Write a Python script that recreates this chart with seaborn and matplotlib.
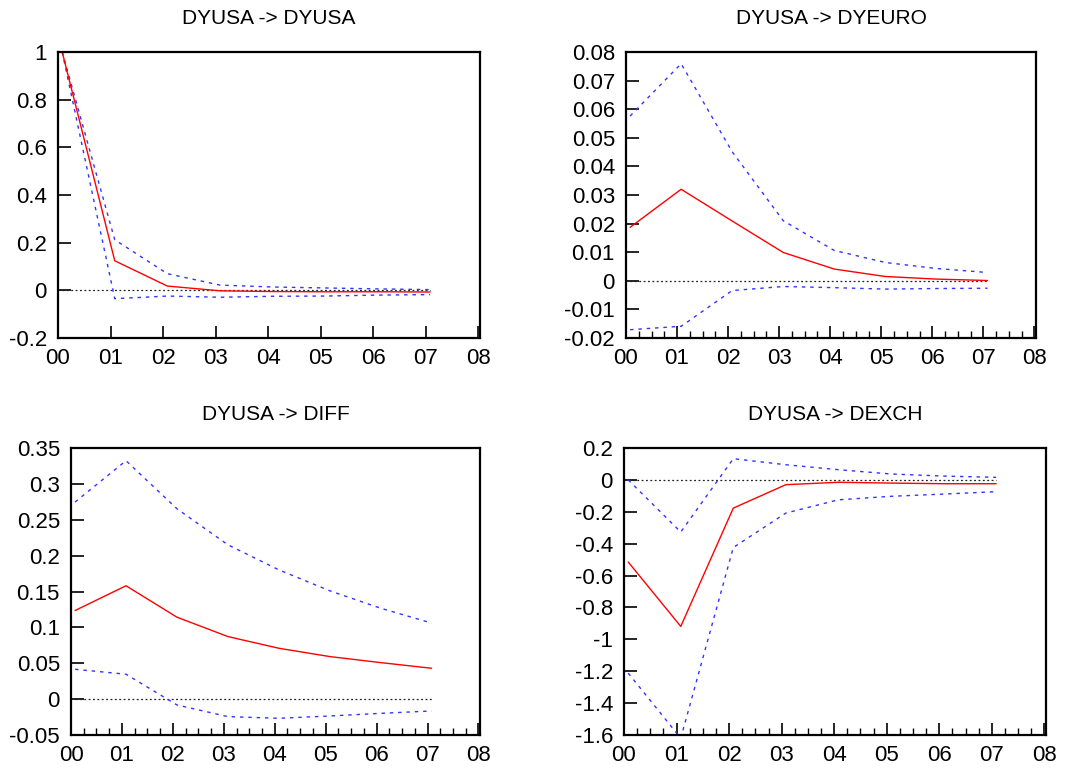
import numpy as np
import pandas as pd
import matplotlib
matplotlib.use("Agg")
import matplotlib.pyplot as plt
import seaborn as sns
from matplotlib.ticker import FixedLocator, FuncFormatter, MultipleLocator

# ---- data ----
horizon = [0.08, 1.08, 2.08, 3.08, 4.08, 5.08, 6.08, 7.08]
xtick_labels = ["00", "01", "02", "03", "04", "05", "06", "07", "08"]
titles = ["DYUSA -> DYUSA", "DYUSA -> DYEURO", "DYUSA -> DIFF", "DYUSA -> DEXCH"]

dyusa_mid = [1.0, 0.124, 0.018, -0.002, -0.005, -0.006, -0.006, -0.007]
dyusa_up = [1.0, 0.212, 0.070, 0.022, 0.014, 0.010, 0.006, 0.003]
dyusa_lo = [1.0, -0.035, -0.024, -0.029, -0.025, -0.024, -0.020, -0.018]

dyeuro_mid = [0.0187, 0.0320, 0.0209, 0.0099, 0.0041, 0.0015, 0.0006, 0.0001]
dyeuro_up = [0.0576, 0.0759, 0.0451, 0.0210, 0.0106, 0.0064, 0.0043, 0.0029]
dyeuro_lo = [-0.0171, -0.0159, -0.0034, -0.0020, -0.0024, -0.0029, -0.0027, -0.0026]

diff_mid = [0.1235, 0.158, 0.1142, 0.0872, 0.0709, 0.0593, 0.0509, 0.043]
diff_up = [0.2747, 0.3323, 0.2653, 0.2151, 0.1802, 0.151, 0.1267, 0.106]
diff_lo = [0.0416, 0.0347, -0.0081, -0.0244, -0.0267, -0.0235, -0.0198, -0.0165]

dexch_mid = [-0.515, -0.919, -0.177, -0.030, -0.015, -0.020, -0.024, -0.024]
dexch_up = [0.0, -0.327, 0.133, 0.095, 0.064, 0.037, 0.024, 0.016]
dexch_lo = [-1.212, -1.62, -0.424, -0.208, -0.125, -0.103, -0.089, -0.074]

ylims = [(-0.2, 1.0), (-0.02, 0.08), (-0.05, 0.35), (-1.6, 0.2)]
ysteps = [0.2, 0.01, 0.05, 0.2]
series = [(dyusa_mid, dyusa_up, dyusa_lo), (dyeuro_mid, dyeuro_up, dyeuro_lo),
          (diff_mid, diff_up, diff_lo), (dexch_mid, dexch_up, dexch_lo)]

sns.set_style("white")
plt.rcParams["font.family"] = ["Liberation Sans", "DejaVu Sans"]
plt.rcParams["axes.unicode_minus"] = False
for key in ["text.color", "axes.labelcolor", "xtick.color", "ytick.color",
            "xtick.labelcolor", "ytick.labelcolor"]:
    plt.rcParams[key] = "black"

W, H = 1088, 769
fig = plt.figure(figsize=(W / 100, H / 100), dpi=100)

# axes boxes in pixels (left, top, right, bottom)
boxes = [(58, 52, 480, 338), (626, 52, 1036, 338), (71, 448, 480, 735), (624, 448, 1046, 735)]
minor = [False, True, True, True]

def fmt(v, pos):
    return "%g" % round(v, 6)

for i, (box, (mid, up, lo)) in enumerate(zip(boxes, series)):
    l, t, r, b = box
    ax = fig.add_axes([l / W, 1 - b / H, (r - l) / W, (b - t) / H])
    df = pd.DataFrame({"h": horizon, "mid": mid, "up": up, "lo": lo})
    zero = pd.DataFrame({"h": [horizon[0], horizon[-1]], "z": [0.0, 0.0]})
    sns.lineplot(data=zero, x="h", y="z", ax=ax, color="#222222", lw=0.9,
                 linestyle=(0, (1.5, 2.0)))
    sns.lineplot(data=df, x="h", y="up", ax=ax, color="#3333ff", lw=1.0,
                 linestyle=(0, (2.5, 3.5)))
    sns.lineplot(data=df, x="h", y="lo", ax=ax, color="#3333ff", lw=1.0,
                 linestyle=(0, (2.5, 3.5)))
    sns.lineplot(data=df, x="h", y="mid", ax=ax, color="#ff0000", lw=1.0)
    ax.set_xlim(0, 8.03)
    ax.set_ylim(*ylims[i])
    ax.set_xlabel("")
    ax.set_ylabel("")
    ax.set_title(titles[i], fontsize=15, pad=20, color="black")
    ax.xaxis.set_major_locator(FixedLocator(range(9)))
    ax.set_xticklabels(xtick_labels)
    if minor[i]:
        ax.xaxis.set_minor_locator(MultipleLocator(0.25))
    ax.yaxis.set_major_locator(MultipleLocator(ysteps[i]))
    ax.yaxis.set_major_formatter(FuncFormatter(fmt))
    ax.tick_params(axis="both", which="major", direction="in", length=9, width=1.2,
                   labelsize=16, color="black", labelcolor="black")
    ax.tick_params(axis="y", which="major", pad=8)
    ax.tick_params(axis="x", which="major", pad=7)
    ax.tick_params(axis="x", which="minor", direction="in", length=5, width=1.0,
                   color="black", bottom=True)
    ax.tick_params(top=False, right=False, left=True, bottom=True)
    for sp in ax.spines.values():
        sp.set_visible(True)
        sp.set_color("black")
        sp.set_linewidth(1.6)

fig.savefig("out.png", dpi=100)
